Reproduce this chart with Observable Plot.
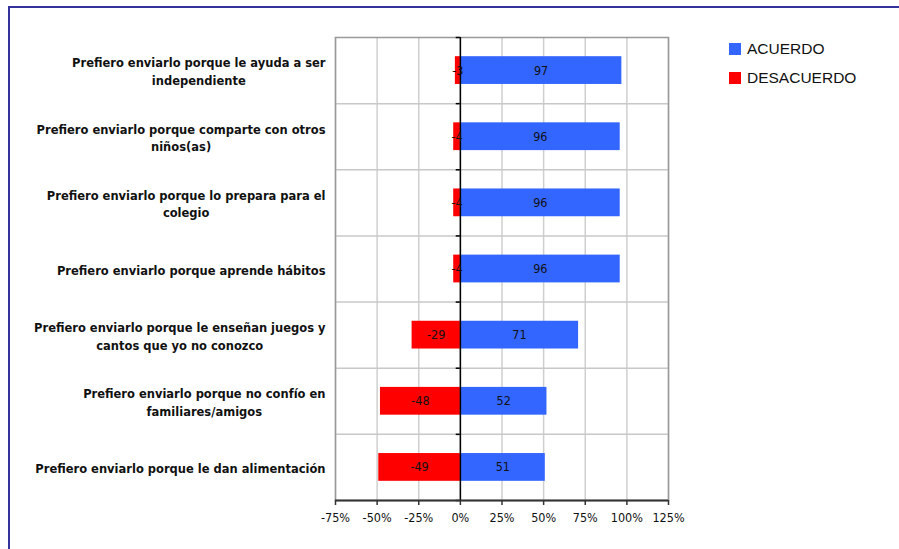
<!DOCTYPE html>
<html>
<head>
<meta charset="utf-8">
<script src="https://cdn.jsdelivr.net/npm/d3@7"></script>
<script src="https://cdn.jsdelivr.net/npm/@observablehq/plot@0.6"></script>
<style>
  html, body { margin: 0; padding: 0; background: #fff; overflow: hidden; }
  #wrap { position: relative; width: 899px; height: 549px; overflow: hidden; background: #fff; }
  #btop { position: absolute; left: 8px; top: 6px; width: 891px; height: 2px; background: #33339a; }
  #bleft { position: absolute; left: 8px; top: 6px; width: 2px; height: 543px; background: #33339a; }
  #chart { position: absolute; left: 0; top: 0; }
  #legend { position: absolute; left: 729px; top: 34px; font-family: "Liberation Sans", Arial, sans-serif;
            font-size: 15.5px; color: #111; }
  .item { display: flex; align-items: center; height: 29px; }
  .sw { width: 12px; height: 12px; margin-right: 6px; }
</style>
</head>
<body>
<div id="wrap">
  <div id="btop"></div>
  <div id="bleft"></div>
  <div id="chart"></div>
  <div id="legend"></div>
</div>
<script>
const categories = [
  "Prefiero enviarlo porque le ayuda a ser\nindependiente",
  "Prefiero enviarlo porque comparte con otros\nniños(as)",
  "Prefiero enviarlo porque lo prepara para el\ncolegio",
  "Prefiero enviarlo porque aprende hábitos",
  "Prefiero enviarlo porque le enseñan juegos y\ncantos que yo no conozco",
  "Prefiero enviarlo porque no confío en\nfamiliares/amigos",
  "Prefiero enviarlo porque le dan alimentación"
];
const acuerdo = [97, 96, 96, 96, 71, 52, 51];
const desacuerdo = [-3, -4, -4, -4, -29, -48, -49];
const xTicks = [-75, -50, -25, 0, 25, 50, 75, 100, 125];
const seriesNames = ["ACUERDO", "DESACUERDO"];
const seriesColors = ["#3366FF", "#FF0000"];

const rows = categories.map((c, i) => ({ c, i, a: acuerdo[i], d: desacuerdo[i] }));
const n = categories.length;
const half = 0.21;
const numFont = '"Liberation Sans Narrow", "DejaVu Sans Condensed", "Liberation Sans", sans-serif';

const plot = Plot.plot({
  width: 720,
  height: 549,
  marginTop: 37,
  marginBottom: 49,
  marginLeft: 335,
  marginRight: 52,
  style: { background: "transparent", fontFamily: numFont, color: "#111", maxWidth: "none" },
  x: { domain: [-75, 125], ticks: xTicks, tickFormat: d => d + "%" },
  y: { domain: [0, n], reverse: true, axis: null },
  marks: [
    Plot.ruleX(xTicks, { stroke: "#cfcfcf", strokeWidth: 1.5 }),
    Plot.ruleY(d3.range(1, n), { stroke: "#c8c8c8", strokeWidth: 1.5 }),
    Plot.frame({ stroke: "#999", strokeWidth: 1.5 }),
    Plot.rectX(rows, { x1: 0, x2: "a", y1: d => d.i + 0.5 - half, y2: d => d.i + 0.5 + half, fill: seriesColors[0] }),
    Plot.rectX(rows, { x1: "d", x2: 0, y1: d => d.i + 0.5 - half, y2: d => d.i + 0.5 + half, fill: seriesColors[1] }),
    Plot.ruleX([0], { stroke: "#000", strokeWidth: 1.5 }),
    Plot.ruleY(d3.range(0, n + 1), { x1: -2.5, x2: 0, stroke: "#000", strokeWidth: 1.5 }),
    Plot.ruleY([n], { stroke: "#333", strokeWidth: 2 }),
    Plot.text(rows, { x: d => d.a / 2, y: d => d.i + 0.5, text: d => String(d.a), fontSize: 12.5, fill: "#111" }),
    Plot.text(rows, { x: d => d.d / 2, y: d => d.i + 0.5, text: d => String(d.d), fontSize: 12.5, fill: "#111" }),
    Plot.axisX({ ticks: xTicks, tickFormat: d => d + "%", tickSize: 5, tickPadding: 8, stroke: "#333", strokeWidth: 1.5, fontSize: 12.5, anchor: "bottom" }),
    Plot.axisY(d3.range(n).map(i => i + 0.5), {
      tickFormat: d => categories[Math.floor(d)],
      tickSize: 0, tickPadding: 10, anchor: "left",
      fontFamily: '"DejaVu Sans", Verdana, sans-serif', fontWeight: "bold", fontSize: 11.5,
      lineHeight: 1.55, textAnchor: "end", fill: "#111"
    })
  ]
});
document.getElementById("chart").appendChild(plot);

// center each wrapped label block under the same right edge
const g = plot.querySelector('g[aria-label="y-axis tick label"]');
if (g) {
  g.querySelectorAll("text").forEach(t => {
    const spans = t.querySelectorAll("tspan");
    const parts = spans.length ? Array.from(spans) : [t];
    const w = d3.max(parts, p => p.getComputedTextLength());
    t.setAttribute("text-anchor", "middle");
    if (spans.length) spans.forEach(s => s.setAttribute("x", -w / 2));
    else t.setAttribute("x", -w / 2);
  });
}

const legend = document.getElementById("legend");
seriesNames.forEach((name, k) => {
  const it = document.createElement("div");
  it.className = "item";
  it.innerHTML = `<div class="sw" style="background:${seriesColors[k]}"></div><span>${name}</span>`;
  legend.appendChild(it);
});
</script>
</body>
</html>
